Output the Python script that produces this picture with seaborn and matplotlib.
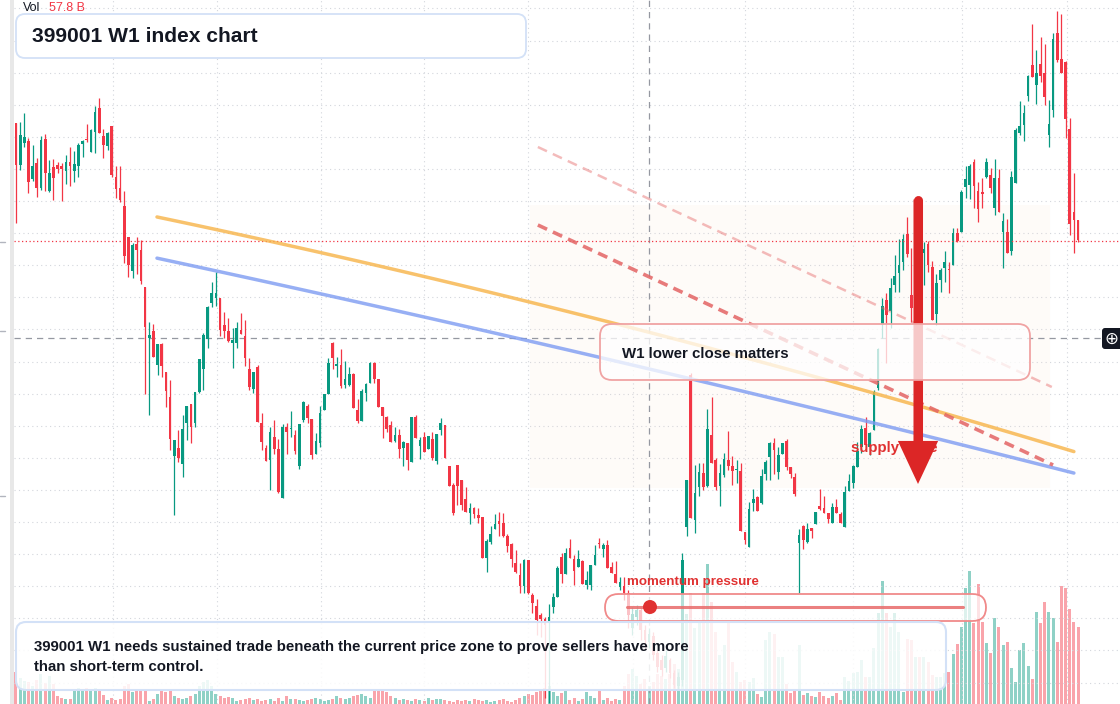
import numpy as np
import pandas as pd
import matplotlib
matplotlib.use('Agg')
from matplotlib import pyplot as plt
from matplotlib.patches import FancyBboxPatch, FancyArrowPatch, Rectangle, Circle
from matplotlib.lines import Line2D
import matplotlib.transforms as mtransforms
import seaborn as sns

W, H = 1120, 704
GREEN = '#089981'
RED = '#f23645'
INK = '#131722'

# weekly candles, index points
open_ = [15270,14850,15070,15090,14710,14870,14620,15110,14590,14830,
         14850,14840,14790,14880,14790,14840,15060,15110,14980,15180,
         15420,15140,15040,15240,14730,14620,14440,14130,13790,14060,
         14000,13630,13120,13190,12850,13060,12780,12530,11940,12020,
         11860,12270,12460,12270,12580,12810,13110,13470,13520,13520,
         13250,13190,13070,13070,13200,13140,12810,12610,12830,12270,
         12020,11900,12130,12010,11520,12230,12210,12150,11840,12300,
         12440,12310,11960,12070,12400,12560,13070,12840,12850,12650,
         12650,12760,12400,12290,12570,12670,12870,12710,12430,12330,
         12250,12090,12150,12020,12070,11880,12330,12040,12130,12010,
         12110,11890,12200,12250,11840,11650,11850,11700,11510,11370,
         11420,11350,11330,10920,11080,11210,11290,11270,11140,11060,
         10870,10750,10640,10900,10550,10440,10350,10310,10290,10430,
         10530,10930,10760,11020,10910,10830,10890,10650,10650,10850,
         11070,11010,11050,10830,10760,10630,10640,10570,10220,10330,
         10400,10200,10080,10140,9970,9900,9820,9900,9770,9640,
         9700,11230,12750,11300,11630,11770,11640,12150,11900,11640,
         11750,11900,11840,11800,11790,11180,11030,11470,11530,11470,
         11760,11930,12070,11780,11960,12090,11830,11730,11070,11240,
         11080,11220,11260,11440,11420,11370,11270,11430,11360,11230,
         11590,11670,11830,12030,12220,12030,12200,12620,13260,13500,
         13390,13650,13770,13880,14160,13550,13500,13880,13970,14060,
         13830,13360,13700,13820,13810,13850,14170,14180,14630,14650,
         14880,14590,14580,14730,14750,14420,14720,14180,14180,13990,
         14670,15170,15250,15540,15850,15650,15860,15770,15150,15400,
         16170,15910,15880,15210,14380,14300]
high = [15270,15280,15370,15120,15050,14920,15140,15160,14900,14910,
        14880,14870,14950,15030,14990,15070,15100,15260,15210,15440,
        15520,15210,15180,15240,14840,14840,14590,14130,14070,14130,
        14100,13630,13280,13260,13060,13070,12780,12700,12100,12200,
        12350,12440,12460,12580,12910,13170,13440,13680,13780,13520,
        13380,13320,13220,13280,13370,13300,12920,12780,12850,12370,
        12050,12230,12300,12110,12260,12270,12390,12200,12260,12490,
        12460,12310,12170,12440,12560,12920,13080,12930,13010,12890,
        12830,12770,12510,12610,12670,12880,12880,12710,12430,12340,
        12290,12230,12210,12090,12070,12330,12350,12130,12180,12140,
        12180,12160,12320,12250,11840,11670,11850,11700,11630,11470,
        11430,11420,11330,11110,11240,11360,11380,11370,11160,11070,
        11000,10870,10910,10900,10570,10510,10370,10330,10460,10570,
        10840,10970,11020,11110,10950,11000,10900,10790,10850,11050,
        11120,11070,11100,10880,10890,10730,10730,10600,10430,10450,
        10420,10250,10220,10180,10000,9950,10000,9920,9800,9780,
        10970,11700,12770,11850,11870,11870,12410,12530,11920,11860,
        11970,12190,11940,11900,11870,11180,11480,11610,11540,11810,
        11900,12080,12120,12030,12070,12110,11830,11770,11210,11250,
        11270,11220,11380,11610,11540,11370,11470,11510,11380,11640,
        11760,11850,12080,12250,12330,12180,12600,13020,13520,13570,
        13720,13950,14110,14160,14330,14020,13950,14050,14080,14090,
        13890,13760,13820,13990,13880,14220,14220,14600,14840,14860,
        14910,14680,14720,14920,14820,14910,14810,14370,14310,14790,
        15220,15490,15450,15750,16260,16000,16130,16060,15500,16170,
        16390,16360,15890,15320,14770,14300]
low = [14270,14800,15030,14570,14690,14530,14600,14590,14580,14500,
       14770,14490,14660,14640,14680,14730,14930,15080,14980,14970,
       15170,14920,15000,14730,14520,14480,13870,13730,13720,13760,
       13660,12560,12350,12930,12750,12730,12430,12000,11350,11880,
       11730,12100,12070,12230,12570,12600,13020,13430,13440,13140,
       13120,13080,12820,13020,13160,12840,12600,12570,12280,12000,
       11890,11600,11960,11570,11520,11960,12130,11960,11810,12280,
       12270,11910,11960,12030,12400,12560,12810,12730,12620,12620,
       12640,12420,12270,12290,12490,12670,12670,12430,12120,12180,
       12080,12080,11920,11840,11800,11880,12120,11910,11980,12010,
       11900,11860,12150,11920,11640,11350,11450,11400,11380,11260,
       11320,11270,10920,10780,11060,11210,11140,11130,10980,10830,
       10770,10570,10570,10560,10370,10150,10130,9520,9470,10370,
       10530,10670,10760,10920,10650,10830,10660,10610,10600,10850,
       11020,10930,10820,10770,10670,10600,10500,10220,10150,10250,
       10100,10020,10020,9900,9780,9740,9780,9720,9620,9600,
       9640,11140,11320,11170,11540,11600,11630,11870,11600,11440,
       11730,11800,11650,11670,11190,11060,11030,11390,11390,11460,
       11700,11700,11760,11710,11960,11800,11720,11540,10570,11010,
       11070,11120,11260,11400,11370,11270,11270,11370,11270,11230,
       11590,11620,11830,11970,12050,11950,12200,12600,13120,12870,
       13220,13580,13580,13800,13930,13280,13450,13650,13650,13780,
       13300,13250,13580,13680,13570,13850,14080,14180,14520,14510,
       14420,14280,14420,14720,14570,14350,14380,13820,13970,13950,
       14670,15150,15090,15490,15730,15460,15680,15450,15030,15330,
       15880,15770,15120,14150,13970,14080]
close = [14850,15150,15130,14680,14840,14620,15100,14770,14770,14720,
         14810,14810,14880,14840,14860,15050,15090,15100,15200,15380,
         15170,15050,15170,14750,14610,14500,13940,13850,14050,14000,
         13690,13230,13150,12930,13060,12840,12590,12110,12100,11920,
         12210,12440,12230,12580,12910,13150,13430,13570,13570,13200,
         13190,13090,13100,13220,13160,12920,12630,12780,12280,12080,
         11890,12180,12010,11580,12230,12180,12220,11990,12260,12480,
         12320,11950,12090,12370,12560,12870,12920,12860,12640,12710,
         12760,12420,12290,12590,12660,12870,12710,12430,12340,12210,
         12080,12150,12010,12080,11900,12330,12120,12100,11980,12140,
         11920,12160,12270,11920,11640,11370,11640,11450,11380,11420,
         11360,11320,10920,11090,11160,11260,11260,11140,11040,10910,
         10780,10640,10900,10570,10470,10300,10310,10250,10330,10530,
         10820,10760,10970,10920,10790,10910,10660,10700,10850,10950,
         11060,11050,10820,10770,10670,10680,10570,10350,10360,10400,
         10200,10100,10160,9950,9830,9800,9940,9770,9650,9730,
         10900,11700,11320,11570,11780,11630,12210,11870,11630,11770,
         11910,11840,11790,11810,11190,11100,11410,11510,11390,11740,
         11880,12070,12000,11950,12070,11830,11760,11560,11150,11100,
         11210,11190,11380,11410,11370,11310,11430,11370,11270,11580,
         11690,11840,11990,12210,12050,12170,12580,13010,13440,13350,
         13620,13740,13850,14110,13960,13420,13880,13800,14010,13850,
         13300,13670,13800,13880,13800,14170,14090,14580,14710,14840,
         14640,14410,14560,14880,14620,14720,14380,14290,13970,14730,
         15200,15240,15370,15740,15730,15770,15740,15530,15260,16110,
         15900,15770,15310,14260,14300,14100]
# weekly volume, billions
volume = [24,19.5,17.3,16.5,13.5,18,22.5,15.8,21,15,
          6,4.5,3.8,3.8,11.3,12,10.5,12,11.3,12,
          10.5,6.8,3,4.5,3,3.8,13.5,15,9,10.5,
          10.5,10.5,2.3,3.8,7.5,10.5,9,10.5,6,4.5,
          3.8,4.5,6,7.5,13.5,16.5,18,13.5,7.5,6,
          4.5,5.3,4.5,2.3,3,3.8,4.5,3,3.8,2.3,
          3,3.8,2.3,4.5,2.3,6,3.8,3.8,3,2.3,
          3,3.8,4.5,3.8,2.3,3,3.8,6,4.5,3.8,
          4.5,6,6.8,7.5,6,4.5,10.5,10.5,9.8,9,
          6,4.5,3,3.8,3,2.3,3.8,3,2.3,4.5,
          3,3.8,3.8,3,2.3,1.5,3,2.3,3,2.3,
          3.8,3,2.3,3,1.5,2.3,3,3.8,2.3,1.5,
          3,4.5,6,7.5,6.8,9,10.5,12,13.5,9,
          6,8.3,10.5,3,4.5,2.3,3.8,9,6,4.5,
          10.5,3,4.5,2.3,3.8,3,13.5,22.5,26.3,21,
          15,18.8,13.5,16.5,22.5,21,18.8,22.5,30,26.3,
          83.3,67.5,83.3,57,61.5,83.3,105,76.5,54,36.8,
          44.3,60.8,31.5,24,16.5,18,16.5,19.5,7.5,5.3,
          48,54,52.5,35.3,35.3,15,8.3,11.3,44.3,6.8,
          8.3,6,5.3,9,6,4.5,6,8.3,3,20.3,
          17.3,23.3,24,33,20.3,20.3,42,68.3,92.3,68.3,
          57.8,68.3,54,9,48.8,48,35.3,35.3,35.3,31.5,
          21.8,20.3,20.3,23.3,24,37.5,45,57.8,87,99.8,
          60.8,90,61.5,45.8,38.3,64.5,57.8,44.3,46.5,27,
          16.5,40.5,45.8,28.5,18.8,69,60.8,76.5,69,64.5,
          46.5,88.5,87,71.3,61.5,57.8]

# trend line anchors (week, price)
orange_wk = [34.85, 88.4, 174.8, 255.0]
orange_px = [14320, 13860, 12920, 11990]
blue_wk = [34.85, 88.4, 141.2, 179.6, 255.0]
blue_px = [13900, 13470, 12920, 12520, 11780]
dash_wk = [126.3, 250.0]
dash_px = [14250, 11850]
dash2_wk = [126.3, 249.7]
dash2_px = [15030, 12630]

sns.set_theme(style='white')
plt.rcParams['font.family'] = ['Liberation Sans', 'DejaVu Sans']

fig = plt.figure(figsize=(W/100, H/100), dpi=100)
fig.patch.set_facecolor('white')
PX = mtransforms.Affine2D().scale(1/W, -1/H).translate(0, 1) + fig.transFigure

rect = [14/W, 0, 1106/W, 1]
axv = fig.add_axes(rect)
ax = fig.add_axes(rect, sharex=axv)
ax.set_facecolor('none')

o = np.array(open_); c = np.array(close); hi = np.array(high); lo = np.array(low)
wk = np.arange(1, len(c) + 1)
up = c >= o

df = pd.DataFrame({'week': wk, 'vol': volume, 'dir': np.where(up, 'up', 'down')})
sns.barplot(data=df, x='week', y='vol', hue='dir', palette={'up': GREEN, 'down': RED},
            native_scale=True, dodge=False, width=0.72, alpha=0.45, saturation=1,
            errorbar=None, legend=False, linewidth=0, ax=axv)
axv.set_ylim(0, 528)
axv.axis('off')

# candles
cols = np.where(up, GREEN, RED)
ax.vlines(wk, np.minimum(lo, np.minimum(o, c)), np.maximum(hi, np.maximum(o, c)),
          colors=cols, lw=0.9, zorder=2)
ax.bar(wk, np.maximum(np.abs(c - o), 9), bottom=np.minimum(o, c), width=0.65,
       color=cols, lw=0, zorder=2.1)

ax.set_xlim(0.52, 266.07)
ax.set_ylim(9460, 16500)
ax.set_yticks(np.arange(9675, 16500, 321))
ax.set_xticks([24.2, 49.2, 74.2, 99, 124, 149.1, 176, 202, 228.1, 253.3])
ax.grid(True, color='#d3d6dc', ls=(0, (1, 3)), lw=0.8)
ax.tick_params(length=0, labelbottom=False, labelleft=False)
for s in ax.spines.values():
    s.set_visible(False)

# zone, crosshair, last price
ax.add_patch(FancyBboxPatch((124.4, 11620), 249.3 - 124.4, 14450 - 11620,
                            boxstyle='round,pad=0,rounding_size=2',
                            facecolor='#fbe3d0', alpha=0.13, lw=0, zorder=0.8))
ax.axvline(152.98, color='#9598a1', lw=0.9, ls=(0, (5, 4)), zorder=1)
ax.axhline(13120, xmax=(1102 - 14) / 1106, color='#9598a1', lw=0.9, ls=(0, (5, 4)), zorder=1)
ax.axhline(14090, color=RED, lw=0.9, ls=(0, (1, 2)), zorder=2.5)

# trend lines
tx = np.linspace(orange_wk[0], orange_wk[-1], 120)
ax.plot(tx, np.polyval(np.polyfit(orange_wk, orange_px, 2), tx), color='#f7b347', lw=2.5, alpha=0.8, zorder=3)
tx = np.linspace(blue_wk[0], blue_wk[-1], 120)
ax.plot(tx, np.polyval(np.polyfit(blue_wk, blue_px, 2), tx), color='#7d9bf2', lw=2.5, alpha=0.8, zorder=3)
ax.plot(dash2_wk, dash2_px, color='#e66a6a', lw=1.8, alpha=0.45, ls=(0, (4, 2.6)), zorder=3)
ax.plot(dash_wk, dash_px, color='#e36464', lw=2.6, alpha=0.85, ls=(0, (2.8, 1.8)), zorder=3)

ax.text(851, 448, 'supply zone', transform=PX, color='#e03131', fontsize=10.8,
        fontweight='bold', va='center', ha='left', zorder=4)

# arrow
ax.plot([217.57, 217.57], [14505, 12000], color='#dc2626', lw=6.5, solid_capstyle='round', zorder=5)
ax.add_patch(FancyArrowPatch((217.57, 14505), (217.57, 11660),
                             arrowstyle='simple,head_length=31,head_width=29,tail_width=6.5',
                             mutation_scale=1, color='#dc2626', lw=0, shrinkA=0, shrinkB=0, zorder=5))

# overlay boxes and texts
def box(x, y, w, h, r, fc, ec, alpha=1.0, lw=1.3, z=5):
    p = FancyBboxPatch((x, y), w, h, boxstyle='round,pad=0,rounding_size=%s' % r,
                       transform=PX, facecolor=fc, edgecolor=ec, lw=lw, zorder=z)
    p.set_facecolor(matplotlib.colors.to_rgba(fc, alpha))
    fig.add_artist(p)

fig.add_artist(Rectangle((10, 0), 4, 704, transform=PX, facecolor='#e8e8e8', lw=0, zorder=5))
for yy in [242, 331, 496]:
    fig.add_artist(Line2D([0, 5], [yy, yy], transform=PX, color='#b2b5be', lw=1, zorder=5))

box(16, 14, 510, 44, 9, 'white', '#d3e1f7', 1.0)
fig.text(32, 36, '399001 W1 index chart', transform=PX, fontsize=15.1, fontweight='bold',
         color=INK, va='center', zorder=6)
fig.text(23, 8, 'Vol', transform=PX, fontsize=9, color=INK, va='center', zorder=6)
fig.text(49, 8, '57.8 B', transform=PX, fontsize=9, color=RED, va='center', zorder=6)

box(600, 324, 430, 56, 12, 'white', '#f0a3a3', 0.75)
fig.text(622, 354, 'W1 lower close matters', transform=PX, fontsize=10.8, fontweight='bold',
         color=INK, va='center', zorder=6)

fig.text(627, 582, 'momentum pressure', transform=PX, fontsize=9.6, fontweight='bold',
         color='#e03131', va='center', zorder=6)
box(605, 594, 381, 27, 13.5, 'white', '#f08a8a', 0.7)
fig.add_artist(Line2D([627, 963], [607, 607], transform=PX, color='#e86a6a', lw=2.2, alpha=0.85, zorder=6))
fig.add_artist(Circle((650, 607), 7, transform=PX, facecolor='#e03131', lw=0, zorder=7))

box(16, 622, 930, 68, 10, 'white', '#d3e1f7', 0.85, lw=1.5)
fig.text(34, 657, '399001 W1 needs sustained trade beneath the current price zone to prove sellers have more\n'
         'than short-term control.', transform=PX, fontsize=10.8, fontweight='bold',
         color=INK, va='center', linespacing=1.5, zorder=6)

box(1102, 328, 24, 21, 3, '#131722', '#131722', 1.0, lw=0, z=6)
fig.text(1111, 339, '\u2295', transform=PX, fontsize=12, color='white', family='DejaVu Sans',
         ha='center', va='center', zorder=7)

fig.savefig('out.png', dpi=100, facecolor='white')
